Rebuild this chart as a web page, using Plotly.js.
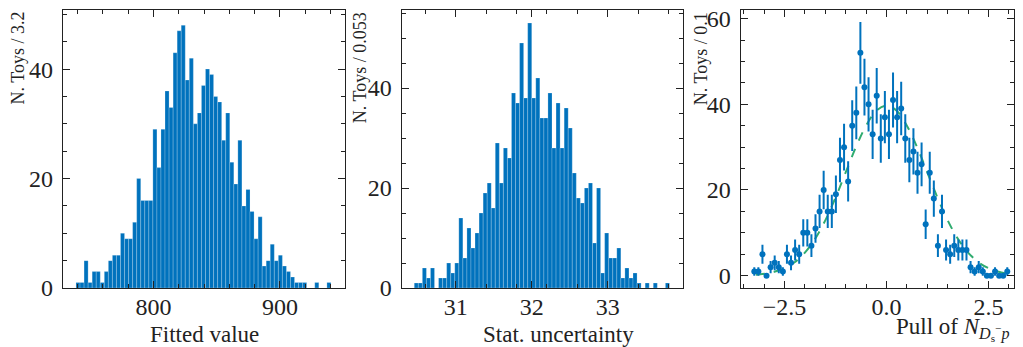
<!DOCTYPE html>
<html><head><meta charset="utf-8">
<script src="https://cdn.plot.ly/plotly-3.0.1.min.js"></script>
<style>html,body{margin:0;padding:0;background:#fff}#chart{width:1023px;height:347px}</style>
</head><body><div id="chart"></div>
<script>
// ---- data ----
const fittedBinStart = 738.7, fittedBinWidth = 3.2;
const fittedCounts = [1,1,5,1,3,3,1,3,5,6, 6,10,9,9,12,20,16,16,16,29, 22,29,36,33,43,47,48,38,42,30,
  32,37,40,39,35,34,27,32,23,19, 27,15,18,14,9,13,4,5,8,5, 6,4,3,2,1,1,1,0,0,1, 0,0,1];
const statBinStart = 30.455, statBinWidth = 0.0533;
const statCounts = [1,1,4,2,4,0,2,2,5,3, 5,14,6,12,8,11,15,19,21,16, 29,21,28,26,39,37,49,38,53,38,
  42,34,34,39,28,37,28,36,32,23, 18,17,20,21,9,20,3,11,6,6, 8,2,4,2,3,1,0,1,0,1, 0,0,1];
const pullBinStart = -3.29, pullBinWidth = 0.1;
const pullCounts = [1,1,5,0,2,3,2,1,5,3, 6,5,10,10,7,11,15,20,15,15, 19,27,30,22,35,38,52,44,40,33,
  42,32,37,33,41,37,39,32,27,29, 24,26,12,24,18,7,15,6,5,7, 6,6,6,2,1,2,1,0,0,1, 0,0,1];
const fitCurveX = [-3.2,-3.0,-2.75,-2.5,-2.25,-2.0,-1.75,-1.5,-1.25,-1.0,-0.75,-0.5,-0.25,0.0,
  0.25,0.5,0.75,1.0,1.25,1.5,1.75,2.0,2.25,2.5,2.75,3.0];
const fitCurveY = [0.25,0.45,0.9,1.75,3.15,5.4,8.6,12.9,18.2,24.1,30.0,35.0,38.5,39.7,
  38.5,35.0,30.0,24.1,18.2,12.9,8.6,5.4,3.15,1.75,0.9,0.45];
const xTitles = ['Fitted value', 'Stat. uncertainty',
  'Pull of <i>N</i><sub><i>D</i><sub>s</sub><sup>\u2212</sup><i>p</i></sub>'];
const yTitles = ['N. Toys / 3.2', 'N. Toys / 0.053', 'N. Toys / 0.1'];

// ---- helpers ----
const centers = (start, w, counts) => counts.map((_, i) => start + w * (i + 0.5));
const FONT = '"Liberation Serif", "DejaVu Serif", serif';
const INK = '#222222';
const BLUE = '#0072BD';

function axis(extra, minorD, minorT0) {
  return Object.assign({
    showline: true, linecolor: INK, linewidth: 1, mirror: 'allticks',
    ticks: 'inside', ticklen: 7, tickwidth: 1, tickcolor: INK,
    showgrid: false, zeroline: false, fixedrange: true,
    tickfont: {family: FONT, size: 24, color: INK},
    minor: {ticks: 'inside', ticklen: 4, tickwidth: 1, tickcolor: INK, dtick: minorD, tick0: minorT0, showgrid: false}
  }, extra);
}

const barStyle = {color: BLUE, line: {color: 'rgba(255,255,255,0.35)', width: 0.6}};

const traces = [
  {type: 'bar', x: centers(fittedBinStart, fittedBinWidth, fittedCounts), y: fittedCounts,
   width: fittedBinWidth, marker: barStyle, xaxis: 'x', yaxis: 'y', hoverinfo: 'skip'},
  {type: 'bar', x: centers(statBinStart, statBinWidth, statCounts), y: statCounts,
   width: statBinWidth, marker: barStyle, xaxis: 'x2', yaxis: 'y2', hoverinfo: 'skip'},
  {type: 'scatter', mode: 'lines', x: fitCurveX, y: fitCurveY, xaxis: 'x3', yaxis: 'y3',
   line: {color: 'rgb(48,172,112)', width: 2, dash: 'dash', shape: 'spline'}, hoverinfo: 'skip'},
  {type: 'scatter', mode: 'markers', x: centers(pullBinStart, pullBinWidth, pullCounts), y: pullCounts,
   xaxis: 'x3', yaxis: 'y3', marker: {color: BLUE, size: 6},
   error_y: {type: 'data', array: pullCounts.map(Math.sqrt), visible: true, thickness: 2, width: 0, color: BLUE},
   hoverinfo: 'skip'}
];

const W = 1023, H = 347;
const yDom = [(H - 288) / H, (H - 10) / H];

const annText = (text, x, y, extra) => Object.assign({
  text: text, xref: 'paper', yref: 'paper', x: x / W, y: 1 - y / H, showarrow: false,
  font: {family: FONT, size: 23, color: INK}
}, extra);

const xl = {ticklabelstandoff: -3};
const layout = {
  width: W, height: H, margin: {l: 0, r: 0, t: 0, b: 0},
  paper_bgcolor: '#ffffff', plot_bgcolor: '#ffffff', showlegend: false, bargap: 0,
  xaxis: axis(Object.assign({domain: [62.7 / W, 345 / W], range: [728.2, 951.4], dtick: 100, tick0: 0, anchor: 'y'}, xl), 20, 0),
  yaxis: axis({domain: yDom, range: [0, 50.8], dtick: 20, tick0: 0, anchor: 'x', ticklabelstandoff: 4}, 5, 0),
  xaxis2: axis(Object.assign({domain: [401.5 / W, 682.7 / W], range: [30.287, 33.987], dtick: 1, tick0: 0, anchor: 'y2'}, xl), 0.4, 31),
  yaxis2: axis({domain: yDom, range: [0, 55.6], dtick: 20, tick0: 0, anchor: 'x2', ticklabelstandoff: 4}, 5, 0),
  xaxis3: axis(Object.assign({domain: [740.5 / W, 1014.3 / W], range: [-3.578, 3.132], dtick: 2.5, tick0: 0, tickformat: '.1f', anchor: 'y3'}, xl), 0.5, 0),
  yaxis3: axis({domain: yDom, range: [-2.87, 62.0], dtick: 20, tick0: 0, anchor: 'x3', ticklabelstandoff: 4}, 5, 0),
  annotations: [
    annText(xTitles[0], 204, 334, {xanchor: 'center', yanchor: 'middle'}),
    annText(xTitles[1], 558, 334, {xanchor: 'center', yanchor: 'middle'}),
    annText(xTitles[2], 1012, 329, {xanchor: 'right', yanchor: 'middle'}),
    annText(yTitles[0], 18, 10, {textangle: -90, xanchor: 'center', yanchor: 'top', font: {family: FONT, size: 18, color: INK}}),
    annText(yTitles[1], 360.7, 10, {textangle: -90, xanchor: 'center', yanchor: 'top', font: {family: FONT, size: 18, color: INK}}),
    annText(yTitles[2], 701.7, 10, {textangle: -90, xanchor: 'center', yanchor: 'top', font: {family: FONT, size: 18, color: INK}})
  ]
};

Plotly.newPlot('chart', traces, layout, {staticPlot: true, displayModeBar: false});
</script>
</body></html>
